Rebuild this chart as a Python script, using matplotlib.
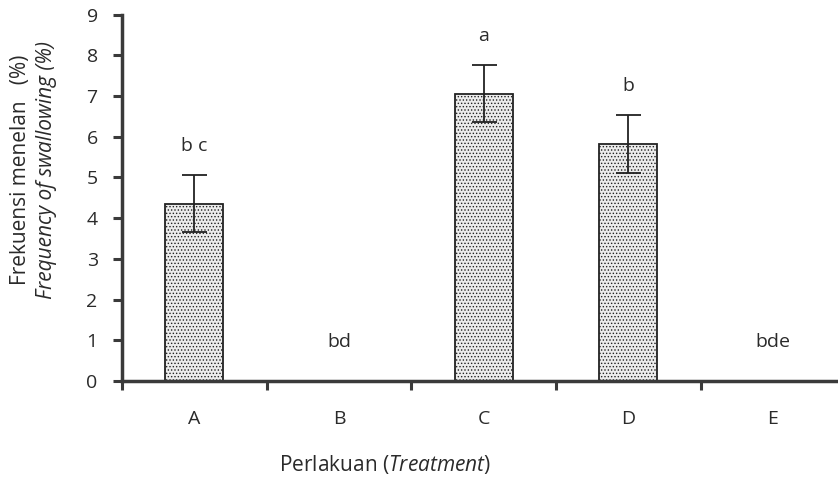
import numpy as np
import matplotlib
matplotlib.use("Agg")
import matplotlib.pyplot as plt

# data
treatments = ['A', 'B', 'C', 'D', 'E']
freq = [4.35, 0.0, 7.05, 5.82, 0.0]
err = [0.70, 0.0, 0.70, 0.71, 0.0]
letters = ['b c', 'bd', 'a', 'b', 'bde']
yticks = [0, 1, 2, 3, 4, 5, 6, 7, 8, 9]

plt.rcParams['font.family'] = ['Open Sans', 'DejaVu Sans']
plt.rcParams['mathtext.fontset'] = 'custom'
plt.rcParams['mathtext.rm'] = 'Open Sans'
plt.rcParams['mathtext.it'] = 'Open Sans:italic'
plt.rcParams['hatch.color'] = '#9a9a9a'
plt.rcParams['hatch.linewidth'] = 0.6

txt = '#2a2a2a'
axc = '#3a3a3a'

fig = plt.figure(figsize=(8.38, 4.79), dpi=100)
ax = fig.add_axes([0.1456, 0.2046, 0.8544, 0.765])

x = np.arange(len(treatments))
has_err = [e > 0 for e in err]
ax.bar(x, freq, width=0.4, color='#ececec', edgecolor='#222222',
       linewidth=1.3, hatch='.....', zorder=2)
ax.errorbar(x[has_err], np.array(freq)[has_err], yerr=np.array(err)[has_err],
            fmt='none', ecolor='#222222', elinewidth=1.3, capsize=9,
            capthick=1.3, zorder=3)

for xi, v, e, lab in zip(x, freq, err, letters):
    top = v + e
    yy = top + 0.72 if top > 0 else 0.95
    ax.text(xi, yy, lab, ha='center', va='center', fontsize=14, color=txt)

ax.set_xlim(-0.5, 4.45)
ax.set_ylim(0, 9)
ax.set_yticks(yticks)
ax.set_xticks(x)
ax.set_xticklabels(treatments)
ax.set_xticks(np.arange(-0.5, 4.0, 1.0), minor=True)
ax.tick_params(axis='x', which='major', length=0, pad=21, labelsize=14,
               labelcolor=txt)
ax.tick_params(axis='x', which='minor', length=6.5, width=2.2, color=axc,
               direction='out')
ax.tick_params(axis='y', length=6.5, width=2.2, color=axc, pad=11,
               labelsize=14, labelcolor=txt)

for s in ['top', 'right']:
    ax.spines[s].set_visible(False)
for s in ['left', 'bottom']:
    ax.spines[s].set_linewidth(2.5)
    ax.spines[s].set_color(axc)

fig.text(0.459, 0.03, r'Perlakuan ($\it{Treatment}$)', ha='center',
         va='center', fontsize=15, color=txt)
fig.text(0.024, 0.645, 'Frekuensi menelan   (%)', rotation=90, ha='center',
         va='center', fontsize=15, color=txt)
fig.text(0.055, 0.645, 'Frequency of swallowing (%)', rotation=90,
         ha='center', va='center', fontsize=15, color=txt, style='italic')

fig.savefig('out.png', dpi=100)
